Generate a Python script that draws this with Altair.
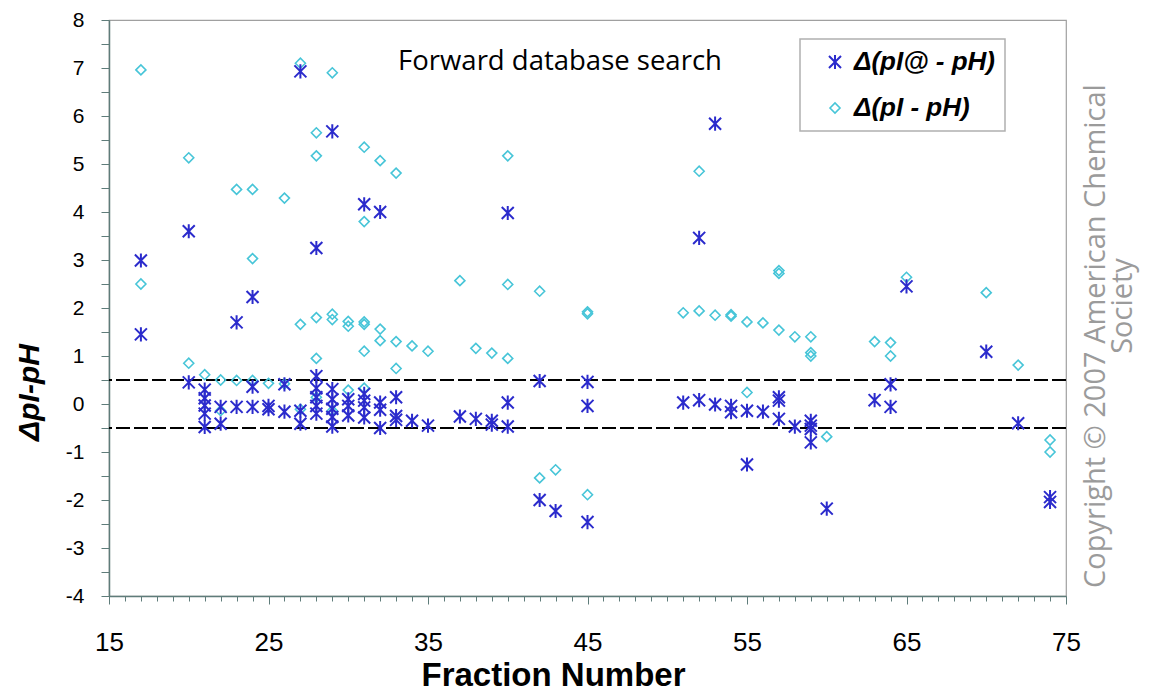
import altair as alt
import pandas as pd

# ---- data ----
series_names = ["Δ(pI@ - pH)", "Δ(pI - pH)"]

frac_at = [17, 17, 20, 20, 21, 21, 21, 21, 21, 22, 22, 23, 23, 24, 24, 24, 25, 25, 26, 26,
           27, 27, 27, 28, 28, 28, 28, 28, 28, 29, 29, 29, 29, 29, 29, 30, 30, 30,
           31, 31, 31, 31, 31, 32, 32, 32, 32, 33, 33, 33, 34, 35, 37, 38, 39, 39,
           40, 40, 40, 42, 42, 43, 45, 45, 45, 51, 52, 52, 53, 53, 54, 54, 55, 55,
           56, 57, 57, 57, 58, 59, 59, 59, 59, 60, 63, 64, 64, 65, 70, 72, 74, 74]
val_at = [2.99, 1.45, 3.6, 0.45, 0.3, 0.12, -0.03, -0.2, -0.48, -0.06, -0.41, 1.7, -0.06,
          2.23, 0.36, -0.06, -0.04, -0.11, 0.41, -0.16,
          6.93, -0.14, -0.41, 3.25, 0.58, 0.33, 0.14, -0.04, -0.2, 5.68, 0.31, 0.1, -0.1, -0.27, -0.47,
          0.1, -0.04, -0.24,
          4.16, 0.21, 0.07, -0.07, -0.28, 4.0, 0.03, -0.12, -0.5, 0.14, -0.25, -0.33, -0.35, -0.45,
          -0.26, -0.31, -0.35, -0.43,
          3.98, 0.03, -0.47, 0.48, -2.0, -2.23, 0.46, -0.04, -2.46, 0.03, 3.46, 0.08, 5.84, -0.01,
          -0.04, -0.17, -0.14, -1.26,
          -0.16, 0.14, 0.07, -0.31, -0.47, -0.35, -0.45, -0.52, -0.8, -2.18, 0.08, 0.41, -0.06,
          2.45, 1.09, -0.4, -1.94, -2.04]

frac_pi = [17, 17, 20, 20, 21, 22, 22, 23, 23, 24, 24, 24, 25, 26, 26,
           27, 27, 27, 28, 28, 28, 28, 28, 29, 29, 29, 29, 30, 30, 30,
           31, 31, 31, 31, 31, 31, 32, 32, 32, 33, 33, 33, 34, 35, 37, 38, 39,
           40, 40, 40, 42, 42, 43, 45, 45, 45, 51, 52, 52, 53, 54, 54, 55, 55,
           56, 57, 57, 57, 58, 59, 59, 59, 60, 63, 64, 64, 65, 70, 72, 74, 74]
val_pi = [6.96, 2.5, 5.13, 0.85, 0.61, 0.5, -0.14, 4.47, 0.49, 4.47, 3.03, 0.49, 0.43, 4.29, 0.42,
          7.1, 1.66, -0.11, 5.65, 5.17, 1.8, 0.95, 0.14, 6.9, 1.87, 1.76, -0.14, 1.72, 1.62, 0.29,
          5.35, 3.8, 1.71, 1.66, 1.1, 0.33, 5.07, 1.56, 1.32, 4.81, 1.3, 0.74, 1.21, 1.1, 2.57, 1.16, 1.06,
          5.17, 2.49, 0.95, 2.35, -1.54, -1.37, 1.92, 1.88, -1.89, 1.9, 4.85, 1.94, 1.85, 1.86, 1.83,
          1.71, 0.24,
          1.69, 2.78, 2.72, 1.54, 1.4, 1.4, 1.07, 1.0, -0.68, 1.3, 1.28, 1.0, 2.64, 2.32, 0.81, -0.75, -1.0]

cutoffs = [0.5, -0.5]
x_ticks = list(range(15, 76))
y_ticks = [v / 2 for v in range(-8, 17)]

# ---- build table ----
df = pd.concat([
    pd.DataFrame({"frac": frac_pi, "val": val_pi, "series": series_names[1]}),
    pd.DataFrame({"frac": frac_at, "val": val_at, "series": series_names[0]}),
], ignore_index=True)

ASTERISK = "M-0.85,-0.85L0.85,0.85M-0.85,0.85L0.85,-0.85M0,-1L0,1"
AXIS_COL = "#5f7c7a"

x_axis = alt.Axis(
    values=x_ticks,
    labelExpr="(datum.value - 15) % 10 === 0 ? '' + datum.value : ''",
    tickSize={"condition": {"test": "(datum.value - 15) % 10 === 0", "value": 8}, "value": 5},
    labelOverlap=False, labelFlush=False, grid=False,
    labelFont="Liberation Sans", labelFontSize=26, labelColor="black", labelPadding=25,
    domainColor=AXIS_COL, tickColor=AXIS_COL, domainWidth=1.5,
    title="Fraction Number", titleFont="Liberation Sans", titleFontSize=33,
    titleFontWeight="bold", titleColor="black",
    titleX=444, titleY=96, titleBaseline="bottom", titleAlign="center",
)
y_axis = alt.Axis(
    values=y_ticks,
    labelExpr="datum.value % 1 === 0 ? '' + datum.value : ''",
    tickSize=8, labelOverlap=False, labelFlush=False, grid=False,
    labelFont="Liberation Sans", labelFontSize=21, labelColor="black", labelPadding=17,
    domainColor=AXIS_COL, tickColor=AXIS_COL, domainWidth=1.5,
    title="ΔpI-pH", titleFont="Liberation Sans", titleFontSize=30,
    titleFontWeight="bold", titleFontStyle="italic", titleColor="black",
    titleX=-80, titleY=372, titleAngle=270, titleAlign="center", titleBaseline="middle",
)

xs = alt.Scale(domain=[15, 75], nice=False, zero=False)
ys = alt.Scale(domain=[-4, 8], nice=False, zero=False)

points = alt.Chart(df).mark_point(filled=False, opacity=1).encode(
    x=alt.X("frac:Q", scale=xs, axis=x_axis),
    y=alt.Y("val:Q", scale=ys, axis=y_axis),
    shape=alt.Shape("series:N", scale=alt.Scale(domain=series_names, range=[ASTERISK, "diamond"]),
                    legend=alt.Legend(title=None)),
    color=alt.Color("series:N", scale=alt.Scale(domain=series_names, range=["#2b2bcc", "#47c5d8"]),
                    legend=alt.Legend(title=None)),
    size=alt.Size("series:N", scale=alt.Scale(domain=series_names, range=[200, 100]), legend=None),
    strokeWidth=alt.StrokeWidth("series:N", scale=alt.Scale(domain=series_names, range=[2.0, 1.6]),
                                legend=None),
)

rules = alt.Chart(pd.DataFrame({"val": cutoffs})).mark_rule(
    color="black", strokeWidth=2, strokeDash=[14, 4]
).encode(y=alt.Y("val:Q", scale=ys, axis=y_axis))

forward = alt.Chart(pd.DataFrame({"t": ["Forward database search"]})).mark_text(
    font="Open Sans", fontSize=27.5, align="center", baseline="alphabetic", color="black"
).encode(text="t:N", x=alt.value(451), y=alt.value(50))

copy1 = alt.Chart(pd.DataFrame({"t": ["Copyright © 2007 American Chemical"]})).mark_text(
    font="Open Sans", fontSize=29, align="center", baseline="middle", angle=270, color="#9b9b9b"
).encode(text="t:N", x=alt.value(987), y=alt.value(316))

copy2 = alt.Chart(pd.DataFrame({"t": ["Society"]})).mark_text(
    font="Open Sans", fontSize=29, align="center", baseline="middle", angle=270, color="#9b9b9b"
).encode(text="t:N", x=alt.value(1014), y=alt.value(286))

chart = alt.layer(rules, points, forward, copy1, copy2).properties(
    width=957, height=576,
    autosize=alt.AutoSizeParams(type="none"),
    padding={"left": 101, "top": 12, "right": 76, "bottom": 96},
).configure_view(
    stroke="#a0a0a0", strokeWidth=1.2
).configure_legend(
    orient="none", legendX=691, legendY=19,
    fillColor="white", strokeColor="#b0b0b0", strokeWidth=1.5,
    padding=10, symbolOffset=12, rowPadding=20, labelOffset=6,
    labelFont="Liberation Sans", labelFontSize=26, labelFontWeight="bold",
    labelFontStyle="italic", labelColor="black", labelLimit=400,
    symbolSize=110, symbolStrokeWidth=2,
)

chart.save("out.html", embed_options={"renderer": "svg", "actions": False})
